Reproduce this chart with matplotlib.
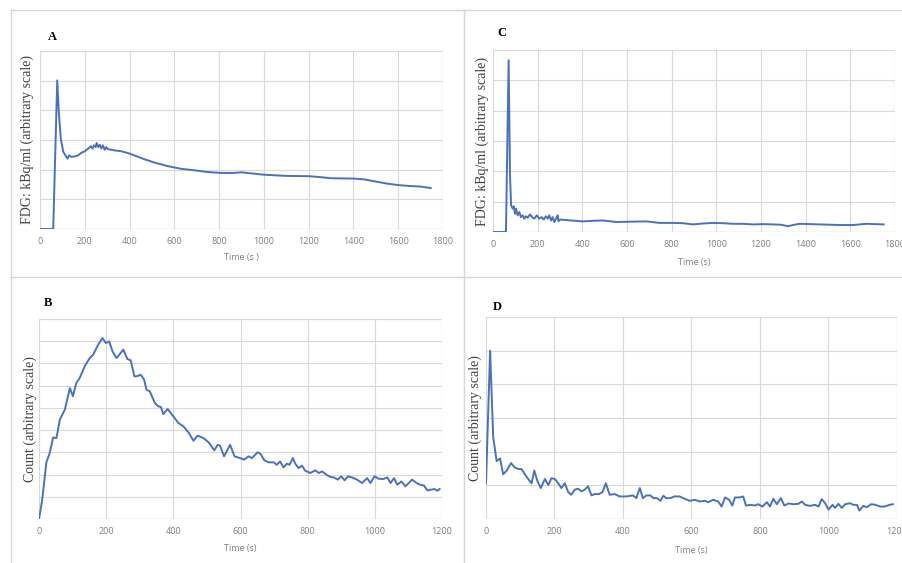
import matplotlib
matplotlib.use("Agg")
import matplotlib.pyplot as plt
from matplotlib.lines import Line2D

# ---- Panel A: FDG activity, 0-1800 s ----
a_time = [0, 59, 77, 84, 93, 104, 114, 123, 130, 141, 156, 170, 185, 200, 215, 227,
          234, 241, 249, 253, 261, 267, 274, 281, 289, 296, 304, 333, 363, 393, 422,
          467, 511, 570, 630, 689, 748, 807, 867, 900, 950, 1000, 1100, 1200, 1250,
          1300, 1400, 1450, 1500, 1550, 1600, 1650, 1700, 1745]
a_value = [0, 0, 5.01, 3.94, 3.04, 2.60, 2.48, 2.37, 2.48, 2.43, 2.45, 2.48, 2.57, 2.62,
           2.71, 2.79, 2.71, 2.82, 2.76, 2.90, 2.76, 2.84, 2.71, 2.82, 2.67, 2.76, 2.69,
           2.65, 2.62, 2.56, 2.48, 2.35, 2.24, 2.12, 2.03, 1.98, 1.92, 1.89, 1.89, 1.91,
           1.87, 1.83, 1.79, 1.78, 1.75, 1.71, 1.70, 1.67, 1.60, 1.53, 1.48, 1.45, 1.43,
           1.38]

# ---- Panel C: FDG activity, 0-1800 s ----
c_time = [0, 58, 70, 76, 81, 88, 93, 99, 103, 110, 118, 125, 133, 140, 148, 155, 166,
          175, 185, 196, 207, 218, 227, 237, 245, 252, 260, 267, 275, 282, 290, 293,
          297, 301, 350, 403, 450, 493, 552, 620, 687, 746, 806, 850, 896, 940, 985,
          1030, 1075, 1120, 1164, 1210, 1254, 1290, 1321, 1343, 1373, 1420, 1463,
          1510, 1552, 1612, 1672, 1710, 1749]
c_value = [0, 0, 5.66, 1.92, 0.88, 0.77, 0.85, 0.60, 0.77, 0.55, 0.66, 0.49, 0.55, 0.44,
           0.52, 0.47, 0.58, 0.49, 0.44, 0.55, 0.44, 0.49, 0.41, 0.52, 0.44, 0.55, 0.38,
           0.49, 0.33, 0.44, 0.55, 0.36, 0.38, 0.41, 0.38, 0.35, 0.37, 0.38, 0.33, 0.34,
           0.35, 0.30, 0.30, 0.29, 0.25, 0.28, 0.30, 0.29, 0.27, 0.27, 0.25, 0.26, 0.25,
           0.24, 0.19, 0.23, 0.27, 0.26, 0.25, 0.24, 0.23, 0.23, 0.27, 0.26, 0.25]

# ---- Panel B: counts, 0-1200 s ----
b_time = [0, 9, 22, 32, 42, 52, 62, 77, 92, 101, 111, 121, 136, 151, 161, 176, 189,
          199, 209, 219, 231, 251, 263, 273, 284, 290, 303, 313, 320, 330, 345, 355,
          363, 370, 383, 400, 415, 430, 445, 460, 472, 490, 505, 522, 532, 539, 551,
          569, 582, 599, 611, 624, 634, 641, 651, 659, 671, 684, 699, 708, 718, 728,
          738, 746, 756, 763, 773, 783, 793, 808, 823, 833, 843, 856, 868, 878, 890,
          900, 910, 920, 932, 947, 962, 977, 987, 999, 1012, 1025, 1037, 1047, 1057,
          1067, 1079, 1091, 1101, 1111, 1124, 1136, 1146, 1156, 1168, 1178, 1186, 1193]
b_value = [0, 0.80, 2.55, 2.97, 3.67, 3.64, 4.47, 4.92, 5.89, 5.52, 6.12, 6.34, 6.87,
           7.24, 7.39, 7.84, 8.14, 7.92, 7.99, 7.54, 7.24, 7.62, 7.20, 7.14, 6.42, 6.42,
           6.49, 6.27, 5.82, 5.74, 5.22, 5.07, 5.04, 4.72, 4.95, 4.62, 4.32, 4.17, 3.90,
           3.52, 3.75, 3.64, 3.45, 3.09, 3.34, 3.30, 2.82, 3.34, 2.82, 2.74, 2.67, 2.82,
           2.74, 2.85, 3.00, 2.94, 2.64, 2.55, 2.55, 2.44, 2.59, 2.32, 2.49, 2.44, 2.74,
           2.49, 2.29, 2.40, 2.17, 2.07, 2.19, 2.07, 2.14, 1.99, 1.89, 1.87, 1.77, 1.92,
           1.74, 1.92, 1.87, 1.77, 1.62, 1.84, 1.62, 1.92, 1.81, 1.80, 1.87, 1.62, 1.84,
           1.54, 1.69, 1.47, 1.62, 1.77, 1.62, 1.54, 1.51, 1.29, 1.32, 1.35, 1.27, 1.35]

# ---- Panel D: counts, 0-1200 s ----
d_time = [0, 12, 21, 31, 41, 50, 60, 73, 84, 94, 104, 118, 133, 141, 150, 160, 172,
          182, 191, 201, 211, 220, 230, 240, 249, 259, 269, 279, 288, 298, 308, 317,
          330, 340, 350, 361, 376, 390, 410, 429, 439, 449, 458, 468, 480, 489, 499,
          509, 518, 526, 538, 550, 565, 580, 595, 610, 624, 639, 649, 663, 678, 688,
          698, 710, 719, 727, 740, 751, 759, 774, 785, 795, 807, 820, 829, 839, 849,
          861, 871, 883, 898, 912, 922, 932, 946, 961, 971, 980, 990, 1000, 1012, 1019,
          1029, 1039, 1049, 1063, 1073, 1083, 1090, 1102, 1112, 1125, 1137, 1151, 1164,
          1178, 1188]
d_value = [1.06, 5.00, 2.44, 1.72, 1.80, 1.33, 1.43, 1.66, 1.53, 1.49, 1.48, 1.26, 1.06,
           1.44, 1.13, 0.92, 1.19, 1.01, 1.21, 1.19, 1.06, 0.92, 1.06, 0.80, 0.72, 0.87,
           0.90, 0.82, 0.87, 0.97, 0.70, 0.74, 0.74, 0.80, 1.06, 0.72, 0.74, 0.67, 0.67,
           0.70, 0.62, 0.92, 0.62, 0.70, 0.70, 0.62, 0.62, 0.54, 0.69, 0.62, 0.62, 0.67,
           0.67, 0.60, 0.54, 0.57, 0.52, 0.54, 0.50, 0.57, 0.52, 0.37, 0.64, 0.57, 0.40,
           0.64, 0.64, 0.67, 0.40, 0.42, 0.40, 0.44, 0.37, 0.50, 0.37, 0.60, 0.44, 0.62,
           0.40, 0.46, 0.44, 0.45, 0.52, 0.42, 0.39, 0.42, 0.37, 0.59, 0.47, 0.28, 0.42,
           0.33, 0.45, 0.33, 0.44, 0.47, 0.42, 0.42, 0.25, 0.39, 0.35, 0.44, 0.42, 0.37,
           0.37, 0.42, 0.44]

xticks_long = list(range(0, 1801, 200))
xticks_short = list(range(0, 1201, 200))

LINE = "#4a72b8"
GRID = "#d9d9d9"
TICK = "#7f7f7f"
SERIF = "Liberation Serif"
SANS = "Open Sans"

W, H = 903, 563
fig = plt.figure(figsize=(W / 100, H / 100), dpi=100)
fig.patch.set_facecolor("white")


def px_axes(left, top, right, bottom):
    return fig.add_axes([left / W, 1 - bottom / H, (right - left) / W, (bottom - top) / H])


def panel(box, t, v, xticks, ymax, ylabel, xlabel, letter, letter_xy, ylabel_x, xlabel_y):
    ax = px_axes(*box)
    ax.plot(t, v, color=LINE, lw=1.4, solid_joinstyle="round", zorder=3)
    ax.set_xlim(xticks[0], xticks[-1])
    ax.set_ylim(0, ymax)
    ax.set_xticks(xticks)
    ax.set_xticklabels([str(x) for x in xticks], fontsize=6.5, color=TICK, family=SANS)
    ax.set_yticks(range(0, ymax + 1))
    ax.set_yticklabels([])
    ax.tick_params(length=0, pad=6)
    ax.grid(True, color=GRID, lw=0.8, zorder=0)
    for s in ax.spines.values():
        s.set_visible(False)
    ax.axhline(0, color="#cfcfcf", lw=0.9, zorder=1)
    ax.axhline(ymax, color=GRID, lw=0.8, zorder=1)
    ax.axvline(xticks[-1], color=GRID, lw=0.8, zorder=1)
    cy = (box[1] + box[3]) / 2
    fig.text(ylabel_x / W, 1 - cy / H, ylabel, rotation=90, ha="center", va="center",
             fontsize=10, color="#404040", family=SERIF)
    fig.text(((box[0] + box[2]) / 2) / W, 1 - xlabel_y / H, xlabel, ha="center",
             va="center", fontsize=6.5, color=TICK, family=SANS)
    fig.text(letter_xy[0] / W, 1 - letter_xy[1] / H, letter, ha="center", va="center",
             fontsize=9, fontweight="bold", family=SERIF, color="black")
    return ax


panel((40, 51, 443, 229), a_time, a_value, xticks_long, 6,
      "FDG: kBq/ml (arbitrary scale)", "Time (s )", "A", (52, 37), 27, 258)
panel((493, 50, 895, 232), c_time, c_value, xticks_long, 6,
      "FDG: kBq/ml (arbitrary scale)", "Time (s)", "C", (502, 33), 482, 262)
panel((39, 319, 442, 519), b_time, b_value, xticks_short, 9,
      "Count (arbitrary scale)", "Time (s)", "B", (48, 303), 30, 548)
panel((486, 317, 897, 519), d_time, d_value, xticks_short, 6,
      "Count (arbitrary scale)", "Time (s)", "D", (497, 307), 475, 550)

# light frame lines separating the four panels
frame = "#d6d6d6"
for xs, ys in [((11, 11), (10, H)), ((464, 464), (10, H)),
               ((11, W), (10, 10)), ((11, W), (277, 277))]:
    fig.add_artist(Line2D([x / W for x in xs], [1 - y / H for y in ys],
                          color=frame, lw=1.0, transform=fig.transFigure))

fig.savefig("out.png", dpi=100, facecolor="white")
